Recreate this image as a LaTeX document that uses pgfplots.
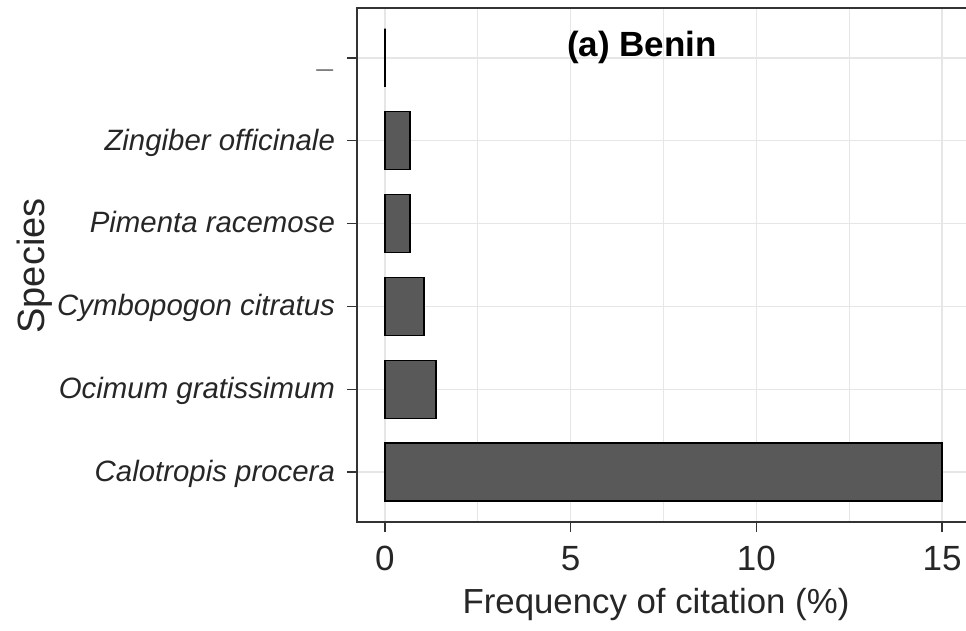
\documentclass[border=0pt]{standalone}
\usepackage{pgfplots}
\pgfplotsset{compat=1.18}
\usepackage{fontspec}
\setmainfont{Liberation Sans}
\definecolor{barfill}{HTML}{595959}
\definecolor{gridc}{HTML}{E6E6E6}
\definecolor{framec}{HTML}{333333}
\definecolor{labc}{HTML}{262626}

\begin{document}
\begin{tikzpicture}
\path[use as bounding box] (0,0) rectangle (483pt,315.5pt);
\begin{axis}[
    at={(178.5pt,54.5pt)}, anchor=south west,
    scale only axis, width=306.5pt, height=257pt,
    xmin=-0.75, xmax=15.75, ymin=0.4, ymax=6.6,
    xtick={0,5,10,15}, minor xtick={2.5,7.5,12.5},
    ytick={1,2,3,4,5,6},
    xtick pos=bottom, ytick pos=left,
    yticklabels={Calotropis procera, Ocimum gratissimum, Cymbopogon citratus, Pimenta racemose, Zingiber officinale, \_},
    typeset ticklabels with strut,
    yticklabel style={font=\fontsize{14.7}{16}\selectfont\itshape, text=labc, xshift=-2.5pt, yshift=-1.5pt},
    xticklabel style={font=\fontsize{17.5}{20}\selectfont, text=labc, yshift=-1.5pt},
    /pgf/number format/assume math mode=true,
    grid=both,
    major grid style={gridc, line width=0.8pt},
    minor grid style={gridc, line width=0.5pt},
    axis line style={framec, line width=1.1pt},
    tick align=outside,
    major tick style={framec, line width=0.8pt},
    major tick length=5pt, minor tick length=0pt,
    xbar, bar width=0.7,
]
\addplot[draw=black, fill=barfill, line width=0.8pt] coordinates {
    (15,1)
    (1.37,2)
    (1.05,3)
    (0.67,4)
    (0.67,5)
    (0,6)
};
\node[font=\fontsize{17.5}{20}\selectfont\bfseries] at (axis cs:6.92,6.12) {(a) Benin};
\end{axis}
\node[rotate=90, font=\fontsize{19}{22}\selectfont, text=labc] at (17.5pt,182.5pt) {Species};
\node[font=\fontsize{17.4}{20}\selectfont, text=labc] at (328pt,13pt) {Frequency of citation (\%)};
\end{tikzpicture}
\end{document}
